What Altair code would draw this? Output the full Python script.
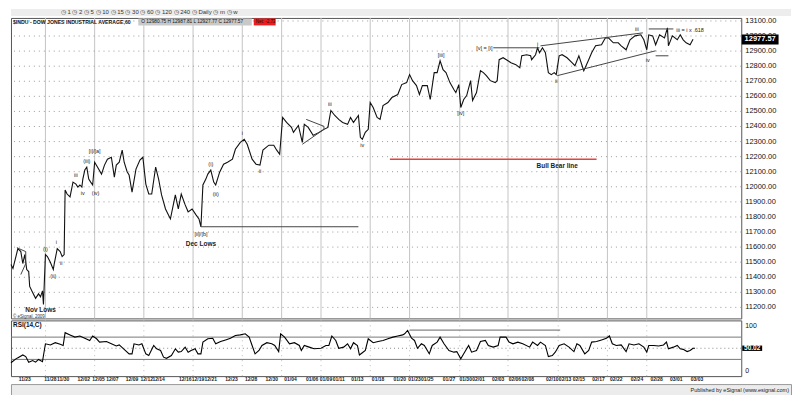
import altair as alt
import pandas as pd

# ---------------- data ----------------
# x is a continuous session index (10 units ~ one trading day)
price_t = [0, 2, 5, 7, 10, 12, 14, 16, 18, 19, 22, 25, 28, 30, 32, 33, 35, 37, 40, 43, 44, 47, 50, 52, 54,
           55, 57, 60, 63, 66, 68, 70, 72, 73, 75, 77, 79, 81, 83, 85, 88, 92, 95, 98, 102, 105, 107, 110,
           113, 115, 118, 120, 123, 127, 131, 134, 137, 140, 143, 147, 150, 153, 157, 162, 167, 170, 173,
           177, 180, 184, 188, 191, 193, 195, 198, 200, 203, 206, 208, 212, 216, 220, 225, 228, 233, 237,
           240, 245, 249, 253, 256, 262, 267, 270, 273, 276, 280, 285, 287, 292, 296, 298, 302, 307, 313,
           318, 322, 325, 329, 333, 337, 342, 345, 348, 353, 355, 357, 360, 363, 365, 368, 372, 375, 378,
           383, 387, 393, 397, 402, 405, 408, 412, 415, 418, 423, 426, 430, 433, 436, 439, 442, 446, 450,
           452, 455, 457, 460, 463, 467, 469, 473, 477, 480, 483, 487, 492, 494, 496, 500, 505, 508, 513,
           517, 519, 524, 528, 529, 533, 535, 537, 540, 543, 546, 549, 552, 554, 557, 560, 565, 570, 573,
           577, 582, 587, 590, 594, 600, 604, 607, 612, 617, 620, 625, 629, 634, 640, 643, 646, 648, 652,
           655, 659, 664, 667, 668, 672, 677, 680, 683, 686, 690, 693]
price_v = [11484, 11458, 11537, 11590, 11570, 11491, 11550, 11451, 11438, 11339, 11299, 11260, 11290, 11270,
           11310, 11220, 11550, 11537, 11500, 11451, 11491, 11590, 11570, 11537, 11550,
           11979, 11952, 11933, 12031, 12018, 11998, 12012, 11998, 12051, 12111, 12130, 12051, 12031, 12012,
           12163, 12130, 12084, 12144, 12183, 12196, 12064, 12144, 12163,
           12243, 12163, 12100, 12078, 11965, 12117, 12177, 12196, 12018, 11952, 11952, 12130, 12051, 11946,
           11853, 11787, 11946, 11853, 11952,
           11880, 11834, 11853, 11814, 11787, 11735, 12012, 12051, 12084, 12111, 12031, 12012, 12097, 12150,
           12163, 12183, 12249, 12295, 12315,
           12282, 12183, 12150, 12144, 12243, 12276, 12276, 12243, 12216, 12460, 12427, 12394, 12361, 12407,
           12295, 12414, 12394, 12341, 12361,
           12381, 12394, 12506, 12473, 12447, 12427, 12414, 12460, 12427, 12473, 12328, 12315, 12361, 12381,
           12559, 12526, 12460, 12447, 12539,
           12559, 12592, 12612, 12678, 12691, 12744, 12704, 12671, 12612, 12671, 12671, 12579, 12757, 12757,
           12836, 12777, 12757, 12691, 12645,
           12625, 12678, 12526, 12579, 12605, 12704, 12572, 12625, 12770, 12757, 12737, 12704, 12691, 12704,
           12843, 12856, 12836, 12823, 12810,
           12790, 12869, 12876, 12869, 12843, 12876, 12922, 12889, 12922, 12889, 12757, 12744, 12757, 12744,
           12869, 12876, 12856, 12823, 12803,
           12869, 12770, 12843, 12889, 12935, 12942, 12988, 12988, 12955, 12955, 12935, 12909, 12975, 13001,
           13008, 12975, 12909, 13008, 13001,
           12942, 13008, 12988, 13054, 12935, 13001, 12975, 13008, 12975, 12955, 12942, 12978]

rsi_t = [0, 5, 8, 12, 15, 18, 22, 25, 28, 32, 33, 35, 40, 45, 50, 53, 55, 60, 65, 70, 75, 80, 83, 87, 90,
         97, 102, 107, 110, 115, 120, 123, 125, 130, 133, 137, 140, 145, 148, 152, 155, 158, 163, 167, 170,
         173, 177, 180, 183, 187, 190, 193, 195, 200, 205, 208, 213, 218, 223, 228, 233, 238, 242, 245, 248,
         252, 255, 260, 265, 268, 272, 274, 278, 283, 288, 293, 295, 298, 303, 308, 315, 320, 323, 326, 330,
         333, 338, 342, 345, 348, 352, 354, 357, 360, 363, 368, 373, 378, 383, 388, 393, 398, 400, 403, 407,
         410, 413, 417, 420, 425, 428, 433, 436, 440, 445, 450, 453, 457, 460, 465, 468, 473, 477, 482, 485,
         490, 495, 497, 503, 506, 510, 515, 520, 527, 530, 535, 538, 543, 546, 550, 553, 557, 562, 567, 572,
         575, 578, 583, 587, 590, 595, 600, 605, 608, 611, 615, 620, 625, 628, 633, 638, 643, 646, 648, 653,
         658, 663, 666, 668, 673, 677, 680, 683, 687, 690, 693, 695]
rsi_v = [24, 31, 34, 38, 35, 25, 28, 25, 30, 26, 37, 58, 56, 60, 57, 55, 78, 74, 70, 72, 68, 64, 72, 67, 61,
         62, 58, 54, 56, 48, 40, 40, 58, 56, 58, 40, 37, 55, 49, 46, 34, 32, 37, 49, 43,
         44, 52, 43, 46, 49, 40, 40, 61, 67, 68, 58, 62, 65, 68, 73, 74, 76, 70, 55, 40,
         46, 55, 60, 58, 55, 44, 76, 70, 58, 60, 55, 46, 55, 52, 49, 50, 55, 55, 72, 64,
         50, 52, 58, 49, 60, 55, 38, 42, 46, 67, 60, 62, 64, 67, 70, 72, 74, 76, 82, 68,
         64, 50, 58, 55, 40, 55, 61, 70, 58, 46, 43, 44, 31, 40, 55, 43, 46, 62, 64, 55,
         52, 55, 70, 70, 61, 58, 61, 58, 52, 61, 55, 61, 55, 35, 37, 43, 55, 58, 52, 44,
         58, 55, 40, 46, 61, 62, 65, 68, 72, 58, 55, 56, 44, 58, 56, 58, 52, 43, 55, 55,
         54, 56, 61, 49, 52, 55, 49, 48, 44, 46, 50, 50.02]

week_starts = [35, 85, 135, 185, 235, 275, 315, 365, 405, 456, 505, 556, 606, 646]
price_ticks = list(range(11200, 13101, 100))

date_labels = ["11/23", "11/28", "11/30", "12/02", "12/05", "12/07", "12/09", "12/12", "12/14", "12/16",
               "12/19", "12/21", "12/23", "12/28", "12/30", "01/04", "01/06", "01/09", "01/11", "01/13",
               "01/18", "01/20", "01/23", "01/25", "01/27", "01/30", "02/01", "02/03", "02/06", "02/08",
               "02/10", "02/13", "02/15", "02/17", "02/22", "02/24", "02/28", "03/01", "03/03"]
date_pos = [14, 40, 53, 74, 89, 103, 123, 138, 150, 177, 190, 203, 224, 244, 265, 284, 306, 320, 333, 352,
            373, 395, 410, 423, 445, 462, 475, 495, 512, 525, 550, 563, 577, 597, 615, 636, 656, 676, 697]

wave_text = ["(i)", "(ii)", "i", "ii", "iii", "iv", "(iii)", "(iv)", "[i]/[a]", "[ii]/[b]",
             "(i)", "(ii)", "i", "ii", "iii", "iv", "[iii]", "[iv]", "[v] = [i]", "i", "ii", "iii", "iv",
             "iii = i x .618"]
wave_t = [35, 43, 46, 51, 66, 73, 77, 86, 85, 193, 203, 208, 235, 253, 324, 357, 437, 457, 481, 535, 554,
          636, 647, 690]
wave_p = [11590, 11405, 11636, 11497, 12078, 11959, 12170, 11959, 12236, 11688, 12150, 11952, 12355, 12104,
          12546, 12276, 12876, 12487, 12922, 12948, 12704, 13047, 12843, 13041]

note_text = ["Nov Lows", "Dec Lows", "Bull Bear line"]
note_t = [30, 193, 555]
note_p = [11182, 11622, 12137]

seg_t1 = [193, 300, 296, 318, 490, 538, 555, 648, 655, 6, 15, 10]
seg_p1 = [11735, 12447, 12282, 12401, 12922, 12935, 12737, 13047, 12869, 11596, 11570, 11418]
seg_t2 = [353, 318, 318, 318, 537, 642, 655, 673, 668, 15, 15, 15]
seg_p2 = [11735, 12401, 12381, 12381, 12922, 13021, 12902, 13047, 12869, 11570, 11491, 11491]

bull_bear_t = [385, 595]
bull_bear_p = 12183

rsi_levels = [70, 30]
rsi_mid = 50
rsi_top, rsi_bottom = 100, 0
rsi_trend_t = [405, 558]
rsi_trend_v = 82.6

last_close = 12977.57
last_rsi = 50.02
ohlc_text = "O 12980.75   H 12987.81   L 12927.77   C 12977.57"
net_text = "Net: -2.73"
title_text = "$INDU - DOW JONES INDUSTRIAL AVERAGE,60"
toolbar_text = "◷ 1   ◷ 2   ◷ 5   ◷ 10   ◷ 15   ◷ 30   ◷ 60   ◷ 120   ◷ 240   ◷ Daily   ◷ m   ◷ w"

# ---------------- chart ----------------
FONT = "Liberation Sans"
W = 734
H_PRICE = 302
H_RSI = 56
xs = alt.Scale(domain=[0, 742], nice=False, zero=False)
ys = alt.Scale(domain=[11127, 13120], nice=False, zero=False)
rs = alt.Scale(domain=[0, 100], nice=False, zero=False)

price_df = pd.DataFrame({"t": price_t, "p": price_v})
rsi_df = pd.DataFrame({"t": rsi_t, "r": rsi_v})
week_df = pd.DataFrame({"t": week_starts})
tick_df = pd.DataFrame({"p": price_ticks, "s": [f"{v:.2f}" for v in price_ticks]})
date_df = pd.DataFrame({"t": date_pos, "s": date_labels})
wave_df = pd.DataFrame({"s": wave_text, "t": wave_t, "p": wave_p})
note_df = pd.DataFrame({"s": note_text, "t": note_t, "p": note_p})
seg_df = pd.DataFrame({"t1": seg_t1, "p1": seg_p1, "t2": seg_t2, "p2": seg_p2})
bb_df = pd.DataFrame({"t1": [bull_bear_t[0]], "t2": [bull_bear_t[1]], "p": [bull_bear_p]})


def X(field):
    return alt.X(field, scale=xs, axis=None)


def PY(field):
    return alt.Y(field, scale=ys, axis=None)


def RY(field):
    return alt.Y(field, scale=rs, axis=None)


def txt(s, **kw):
    return alt.Chart(pd.DataFrame({"s": [s]})).mark_text(font=FONT, **kw)


# toolbar strip
toolbar = txt(toolbar_text, align="left", baseline="middle", fontSize=6, color="#333").encode(
    x=alt.value(50), y=alt.value(3), text="s:N").properties(
    width=784, height=7, view=alt.ViewBackground(fill="#ededed", stroke=None))

# price panel
hgrid = alt.Chart(tick_df).mark_rule(color="#9a9a9a", strokeWidth=1, strokeDash=[1, 4]).encode(
    y=PY("p:Q"))
ylabels = alt.Chart(tick_df).mark_text(font=FONT, fontSize=7.5, color="#111", align="left",
                                      baseline="middle").encode(
    x=alt.value(W + 4), y=PY("p:Q"), text="s:N")
vlines = alt.Chart(week_df).mark_rule(color="#c4c4c4", strokeWidth=1).encode(x=X("t:Q"))
price_line = alt.Chart(price_df).mark_line(color="#111", strokeWidth=1.1).encode(
    x=X("t:Q"), y=PY("p:Q"))
segs = alt.Chart(seg_df).mark_rule(color="#444", strokeWidth=1).encode(
    x=X("t1:Q"), y=PY("p1:Q"), x2="t2:Q", y2="p2:Q")
bb = alt.Chart(bb_df).mark_rule(color="#e8413f", strokeWidth=1.6).encode(
    x=X("t1:Q"), x2="t2:Q", y=PY("p:Q"))
waves = alt.Chart(wave_df).mark_text(fontSize=5.5, font=FONT, color="#222").encode(
    x=X("t:Q"), y=PY("p:Q"), text="s:N")
notes = alt.Chart(note_df).mark_text(fontSize=6.5, font=FONT, color="#222", fontWeight="bold").encode(
    x=X("t:Q"), y=PY("p:Q"), text="s:N")
copyright_ = txt("© eSignal, 2009", fontSize=4.5, color="#333", align="left", baseline="middle").encode(
    x=alt.value(2), y=alt.value(301), text="s:N")
title_t = txt(title_text, fontSize=5.2, fontWeight="bold", color="#111", align="left",
              baseline="middle").encode(x=alt.value(2), y=alt.value(4), text="s:N")
ohlc_box = alt.Chart(pd.DataFrame({"a": [0]})).mark_rect(color="#c9c9c9").encode(
    x=alt.value(128), x2=alt.value(242), y=alt.value(0.5), y2=alt.value(7.5))
ohlc_t = txt(ohlc_text, fontSize=4.8, color="#111", align="left", baseline="middle").encode(
    x=alt.value(131), y=alt.value(4), text="s:N")
red_box = alt.Chart(pd.DataFrame({"a": [0]})).mark_rect(color="#ee1c1c").encode(
    x=alt.value(244), x2=alt.value(266), y=alt.value(0.5), y2=alt.value(7.5))
red_t = txt(net_text, fontSize=4.5, color="#111", align="left", baseline="middle").encode(
    x=alt.value(246), y=alt.value(4), text="s:N")
TAG = "M-1,-0.27 L1,-0.27 L1,0.27 L-1,0.27 Z"
close_tag = alt.Chart(pd.DataFrame({"p": [last_close]})).mark_point(
    shape=TAG, size=1369, filled=True, color="#000", opacity=1).encode(
    x=alt.value(W + 19), y=PY("p:Q"))
close_txt = alt.Chart(pd.DataFrame({"p": [last_close], "s": [f"{last_close:.2f}"]})).mark_text(
    fontSize=7.5, font=FONT, color="#fff", fontWeight="bold").encode(
    x=alt.value(W + 19), y=PY("p:Q"), text="s:N")

price_panel = alt.layer(vlines, hgrid, ylabels, price_line, segs, bb, waves, notes, copyright_, title_t,
                        ohlc_box, ohlc_t, red_box, red_t, close_tag, close_txt).properties(
    width=W, height=H_PRICE, view=alt.ViewBackground(fill="#ffffff", stroke="#555", strokeWidth=1))

# RSI panel
rsi_vlines = alt.Chart(week_df).mark_rule(color="#bbbbbb", strokeWidth=1, strokeDash=[1, 4]).encode(
    x=X("t:Q"))
lvl = alt.Chart(pd.DataFrame({"r": rsi_levels})).mark_rule(color="#777", strokeWidth=1).encode(
    y=RY("r:Q"))
mid = alt.Chart(pd.DataFrame({"r": [rsi_mid]})).mark_rule(color="#888", strokeWidth=1,
                                                          strokeDash=[1, 3]).encode(y=RY("r:Q"))
rtrend = alt.Chart(pd.DataFrame({"t1": [rsi_trend_t[0]], "t2": [rsi_trend_t[1]], "r": [rsi_trend_v]})
                   ).mark_rule(color="#666", strokeWidth=1).encode(
    x=X("t1:Q"), x2="t2:Q", y=RY("r:Q"))
rsi_line = alt.Chart(rsi_df).mark_line(color="#000", strokeWidth=1.1).encode(
    x=X("t:Q"), y=RY("r:Q"))
rsi_lab = txt("RSI(14,C)", fontSize=6.5, fontWeight="bold", color="#111", align="left",
              baseline="middle").encode(x=alt.value(2), y=alt.value(5), text="s:N")
rsi_top_t = alt.Chart(pd.DataFrame({"r": [rsi_top], "s": [str(rsi_top)]})).mark_text(
    font=FONT, fontSize=7, color="#111", align="left", baseline="top", dy=2).encode(
    x=alt.value(W + 4), y=RY("r:Q"), text="s:N")
rsi_bot_t = alt.Chart(pd.DataFrame({"r": [rsi_bottom], "s": [str(rsi_bottom)]})).mark_text(
    font=FONT, fontSize=7, color="#111", align="left", baseline="bottom", dy=-2).encode(
    x=alt.value(W + 4), y=RY("r:Q"), text="s:N")
rsi_tag = alt.Chart(pd.DataFrame({"r": [last_rsi]})).mark_point(
    shape=TAG, size=400, filled=True, color="#000", opacity=1).encode(
    x=alt.value(W + 11), y=RY("r:Q"))
rsi_tag_t = alt.Chart(pd.DataFrame({"r": [last_rsi], "s": [f"{last_rsi:.2f}"]})).mark_text(
    fontSize=6.5, font=FONT, color="#fff", fontWeight="bold").encode(
    x=alt.value(W + 11), y=RY("r:Q"), text="s:N")
dates = alt.Chart(date_df).mark_text(font=FONT, fontSize=5, fontWeight="bold", color="#222",
                                    baseline="top").encode(
    x=X("t:Q"), y=alt.value(H_RSI + 1), text="s:N")

rsi_panel = alt.layer(rsi_vlines, lvl, mid, rtrend, rsi_line, rsi_lab, rsi_top_t, rsi_bot_t, rsi_tag,
                      rsi_tag_t, dates).properties(
    width=W, height=H_RSI, view=alt.ViewBackground(fill="#ffffff", stroke="#555", strokeWidth=1))

footer = txt("Published by eSignal (www.esignal.com)", fontSize=5.5, color="#222", align="right",
             baseline="middle").encode(x=alt.value(782), y=alt.value(6), text="s:N").properties(
    width=784, height=11, view=alt.ViewBackground(fill="#ececec", stroke="#999"))

chart = alt.vconcat(toolbar, price_panel, rsi_panel, footer, spacing=0).properties(
    padding=0, background="#ffffff"
).configure_concat(spacing=0)

chart.save("out.html", embed_options={"renderer": "svg", "actions": False})
